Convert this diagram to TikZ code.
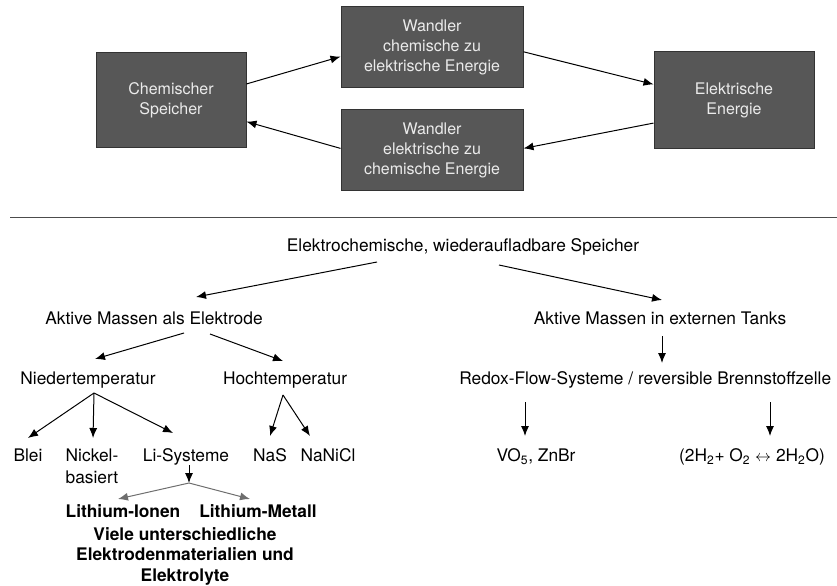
\documentclass[tikz,border=0pt]{standalone}
\usepackage{fontspec}
\setmainfont{TeX Gyre Heros}
\usetikzlibrary{arrows.meta,calc}
\definecolor{boxgray}{HTML}{575757}
\definecolor{boxtext}{HTML}{EBEBEB}
\definecolor{splitgray}{HTML}{6E6E6E}
\begin{document}
\begin{tikzpicture}[x=0.75pt,y=-0.75pt,
  speicherbox/.style={draw=black!80,line width=0.75pt,fill=boxgray,text=boxtext,align=center,inner sep=0pt,font=\fontsize{12}{15}\selectfont},
  lbl/.style={inner sep=0pt,text height=9.3pt,text depth=2.7pt,font=\fontsize{13}{15.5}\selectfont},
  lblml/.style={inner sep=0pt,font=\fontsize{13}{16.5}\selectfont},
  pfeil/.style={-{Latex[length=7.5pt,width=6pt]},line width=0.75pt},
  pfeilgrau/.style={pfeil,draw=splitgray,color=splitgray}]
\useasboundingbox (0,0) rectangle (837,585);
\node[speicherbox,minimum width=112.5pt,minimum height=71.25pt] (chem) at (171,100) {Chemischer\\Speicher};
\node[speicherbox,minimum width=136.5pt,minimum height=60.75pt] (wa) at (432,47) {Wandler\\chemische zu\\elektrische Energie};
\node[speicherbox,minimum width=136.5pt,minimum height=60.75pt] (wb) at (432,150) {Wandler\\elektrische zu\\chemische Energie};
\node[speicherbox,minimum width=120pt,minimum height=72pt] (elek) at (734,100) {Elektrische\\Energie};
\draw[pfeil] (chem.12) -- (wa.186);
\draw[pfeil] (wa.357) -- (elek.169);
\draw[pfeil] (elek.196) -- (wb.1);
\draw[pfeil] (wb.179) -- (chem.344);
\draw[line width=0.75pt,color=black!70] (10,217) -- (837,217);
\node[lbl] (top) at (463,247) {Elektrochemische, wiederaufladbare Speicher};
\node[lbl] (aktel) at (154,320) {Aktive Massen als Elektrode};
\node[lbl] (tanks) at (660,320) {Aktive Massen in externen Tanks};
\node[lbl,anchor=west] (redox) at (459,380) {Redox-Flow-Systeme / reversible Brennstoffzelle};
\node[lbl] (nieder) at (88,380) {Niedertemperatur};
\node[lbl] (hoch) at (285,380) {Hochtemperatur};
\node[lbl] (blei) at (28,457) {Blei};
\node[lblml,align=left] (nickel) at (92,466) {Nickel-\\basiert};
\node[lbl] (lisys) at (186,457) {Li-Systeme};
\node[lbl] (nas) at (270,457) {NaS};
\node[lbl] (nanicl) at (328,457) {NaNiCl};
\node[lbl] (vo) at (536,457) {VO\textsubscript{5}, ZnBr};
\node[lbl] (wasser) at (752,457) {(2H\textsubscript{2}+ O\textsubscript{2} $\leftrightarrow$ 2H\textsubscript{2}O)};
\node[lbl,font=\fontsize{13}{15.5}\selectfont\bfseries] (liion) at (123,513) {Lithium-Ionen};
\node[lbl,font=\fontsize{13}{15.5}\selectfont\bfseries] (limet) at (258,513) {Lithium-Metall};
\node[lblml,align=center,font=\fontsize{13}{15.4}\selectfont\bfseries] (viele) at (185,556) {Viele unterschiedliche\\Elektrodenmaterialien und\\Elektrolyte};
\coordinate (lisplit) at (189,483);
\draw[pfeil] ($(top)+(-86,15)$) -- ($(aktel)+(42,-23)$);
\draw[pfeil] ($(top)+(36,18)$) -- ($(tanks)+(2,-20)$);
\draw[pfeil] ($(tanks)+(2,16)$) -- ($(redox.west)+(203,-17)$);
\draw[pfeil] ($(aktel)+(30,13)$) -- ($(nieder)+(7,-21)$);
\draw[pfeil] ($(aktel)+(56,14)$) -- ($(hoch)+(-2,-19)$);
\draw[pfeil] ($(nieder)+(6,13)$) -- ($(blei)+(0,-19)$);
\draw[pfeil] ($(nieder)+(6,13)$) -- ($(nickel)+(1,-28)$);
\draw[pfeil] ($(nieder)+(6,13)$) -- ($(lisys)+(-13,-24)$);
\draw[pfeil] ($(hoch)+(-2,15)$) -- ($(nas)+(0,-21)$);
\draw[pfeil] ($(hoch)+(-2,15)$) -- ($(nanicl)+(-18,-21)$);
\draw[pfeil] ($(lisys)+(3,8)$) -- (lisplit);
\draw[pfeilgrau] (lisplit) -- ($(liion)+(-5,-14)$);
\draw[pfeilgrau] (lisplit) -- ($(limet)+(-8,-14)$);
\draw[pfeil] ($(redox.west)+(66,22)$) -- ($(vo)+(-11,-21)$);
\draw[pfeil] ($(redox.west)+(311,22)$) -- ($(wasser)+(18,-21)$);
\end{tikzpicture}
\end{document}
